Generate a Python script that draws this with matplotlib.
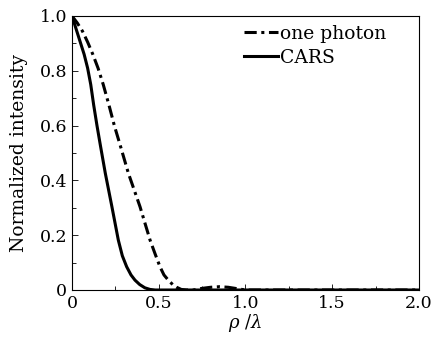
import numpy as np
import matplotlib
matplotlib.use("Agg")
import matplotlib.pyplot as plt
from matplotlib.ticker import MultipleLocator

rho_one = [0.0, 0.03, 0.06, 0.09, 0.12, 0.15, 0.18, 0.213, 0.244, 0.277, 0.325, 0.392, 0.45, 0.48, 0.507, 0.53, 0.555, 0.58, 0.603, 0.63, 0.66, 0.70, 0.75, 0.80, 0.85, 0.90, 0.95, 1.0, 1.5, 2.0]
int_one = [1.0, 0.975, 0.945, 0.905, 0.86, 0.81, 0.75, 0.675, 0.60, 0.53, 0.426, 0.304, 0.182, 0.13, 0.085, 0.055, 0.036, 0.02, 0.01, 0.002, 0.0, 0.0, 0.006, 0.010, 0.012, 0.010, 0.005, 0.0, 0.0, 0.0]

rho_cars = [0.0, 0.02, 0.045, 0.07, 0.09, 0.108, 0.125, 0.144, 0.163, 0.192, 0.23, 0.267, 0.29, 0.315, 0.34, 0.363, 0.39, 0.42, 0.45, 0.48, 1.0, 1.5, 2.0]
int_cars = [1.0, 0.96, 0.91, 0.86, 0.81, 0.75, 0.675, 0.60, 0.53, 0.426, 0.304, 0.182, 0.125, 0.085, 0.055, 0.036, 0.02, 0.008, 0.002, 0.0, 0.0, 0.0, 0.0]

plt.rcParams['font.family'] = ['DejaVu Serif']
plt.rcParams['mathtext.fontset'] = 'dejavuserif'

fig = plt.figure(figsize=(4.39, 3.41), dpi=100)
ax = fig.add_axes([72/439, 1-290/341, (419-72)/439, (290-16)/341])

ax.plot(rho_one, int_one, color='black', lw=2.2, linestyle=(0, (4, 1.5, 1, 1.5)), label='one photon')
ax.plot(rho_cars, int_cars, color='black', lw=2.2, label='CARS')

ax.set_xlim(0, 2.0)
ax.set_ylim(0, 1.0)
ax.set_xticks([0, 0.5, 1.0, 1.5, 2.0])
ax.set_xticklabels(['0', '0.5', '1.0', '1.5', '2.0'])
ax.set_yticks([0, 0.2, 0.4, 0.6, 0.8, 1.0])
ax.set_yticklabels(['0', '0.2', '0.4', '0.6', '0.8', '1.0'])
ax.xaxis.set_minor_locator(MultipleLocator(0.25))
ax.yaxis.set_minor_locator(MultipleLocator(0.1))
ax.tick_params(which='both', direction='in', labelsize=12.5, length=3, width=0.6)
ax.tick_params(which='major', length=4)
for s in ax.spines.values():
    s.set_linewidth(0.8)

ax.set_xlabel(r'$\rho$ /$\lambda$', fontsize=13, labelpad=0)
ax.set_ylabel('Normalized intensity', fontsize=13.5, labelpad=8)

ax.legend(loc='upper left', bbox_to_anchor=(244/439, 1-25/341), bbox_transform=fig.transFigure,
          frameon=False, fontsize=13.5, handlelength=1.8, borderpad=0,
          handletextpad=0.1, borderaxespad=0, labelspacing=0.3)

fig.savefig('out.png', dpi=100, facecolor='white')
